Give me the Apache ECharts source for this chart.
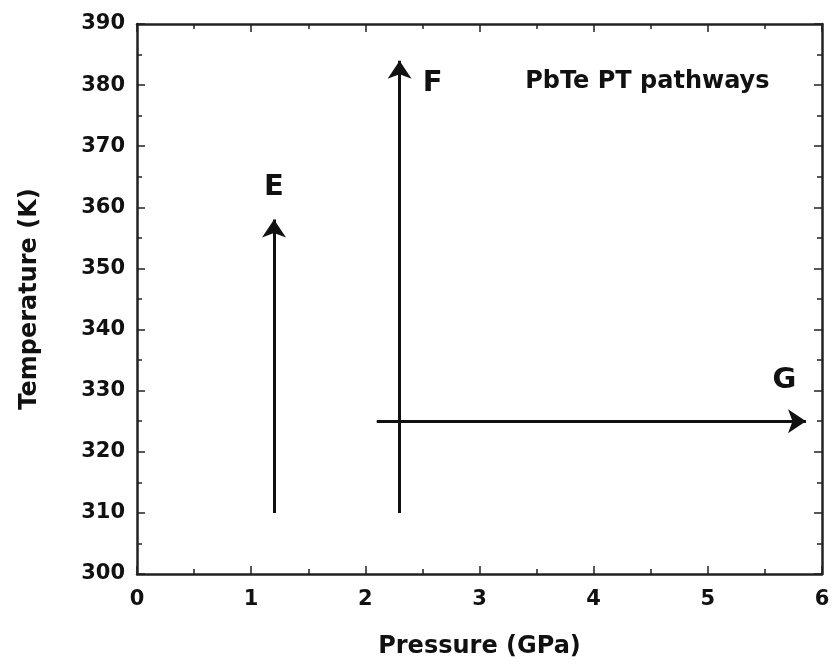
<!DOCTYPE html>
<html><head><meta charset="utf-8">
<script src="https://cdn.jsdelivr.net/npm/echarts@6/dist/echarts.min.js"></script>
<style>html,body{margin:0;padding:0;background:#fff}#c{width:835px;height:670px}</style>
</head><body><div id="c"></div>
<script>
// Data
const xTicks = [0,1,2,3,4,5,6];
const yTicks = [300,310,320,330,340,350,360,370,380,390];
const pathNames = ['E','F','G'];
const pathStart = [[1.2,310],[2.3,310],[2.1,325]];
const pathEnd = [[1.2,358],[2.3,384],[5.86,325]];
const labelPos = [[1.2,363.3],[2.59,380.2],[5.67,331.7]];
const titleText = 'PbTe PT pathways';
const titlePos = [4.47,380.5];

const chart = echarts.init(document.getElementById('c'));
const FONT = '"DejaVu Sans", Arial, sans-serif';
const INK = '#111';
const axCommon = {
  axisLine:{show:true,onZero:false,lineStyle:{color:'#222',width:2.5}},
  axisTick:{show:true,inside:true,length:8,lineStyle:{color:'#222',width:1.5}},
  minorTick:{show:true,splitNumber:2,length:5,lineStyle:{color:'#222',width:1.5}},
  splitLine:{show:false}
};
chart.setOption({
  animation:false,
  backgroundColor:'#fff',
  grid:{left:137,right:13,top:24,bottom:96},
  xAxis:[
    Object.assign({type:'value',min:0,max:6,interval:1,position:'bottom',
      name:'Pressure (GPa)',nameLocation:'middle',nameGap:61,
      nameTextStyle:{fontFamily:FONT,fontWeight:'bold',fontSize:24,color:INK},
      axisLabel:{fontFamily:FONT,fontWeight:'bold',fontSize:21,color:INK,margin:15}},axCommon),
    Object.assign({type:'value',min:0,max:6,interval:1,position:'top',axisLabel:{show:false}},axCommon)
  ],
  yAxis:[
    Object.assign({type:'value',min:300,max:390,interval:10,position:'left',
      name:'Temperature (K)',nameLocation:'middle',nameGap:95,
      nameTextStyle:{fontFamily:FONT,fontWeight:'bold',fontSize:24,color:INK},
      axisLabel:{fontFamily:FONT,fontWeight:'bold',fontSize:21,color:INK,margin:12}},axCommon),
    Object.assign({type:'value',min:300,max:390,interval:10,position:'right',axisLabel:{show:false}},axCommon)
  ],
  series:[
    {type:'lines',coordinateSystem:'cartesian2d',
      symbol:['none','arrow'],symbolSize:18,
      lineStyle:{color:INK,width:3,opacity:1},
      data:pathStart.map((s,i)=>({coords:[s,pathEnd[i]]}))},
    {type:'scatter',symbolSize:0,itemStyle:{opacity:1},
      label:{show:true,position:'inside',formatter:p=>p.name,fontFamily:FONT,fontWeight:'bold',fontSize:29,color:INK},
      data:labelPos.map((p,i)=>({name:pathNames[i],value:p}))},
    {type:'scatter',symbolSize:0,itemStyle:{opacity:1},
      label:{show:true,position:'inside',formatter:p=>p.name,fontFamily:FONT,fontWeight:'bold',fontSize:24,color:INK},
      data:[{name:titleText,value:titlePos}]}
  ]
});
</script></body></html>
